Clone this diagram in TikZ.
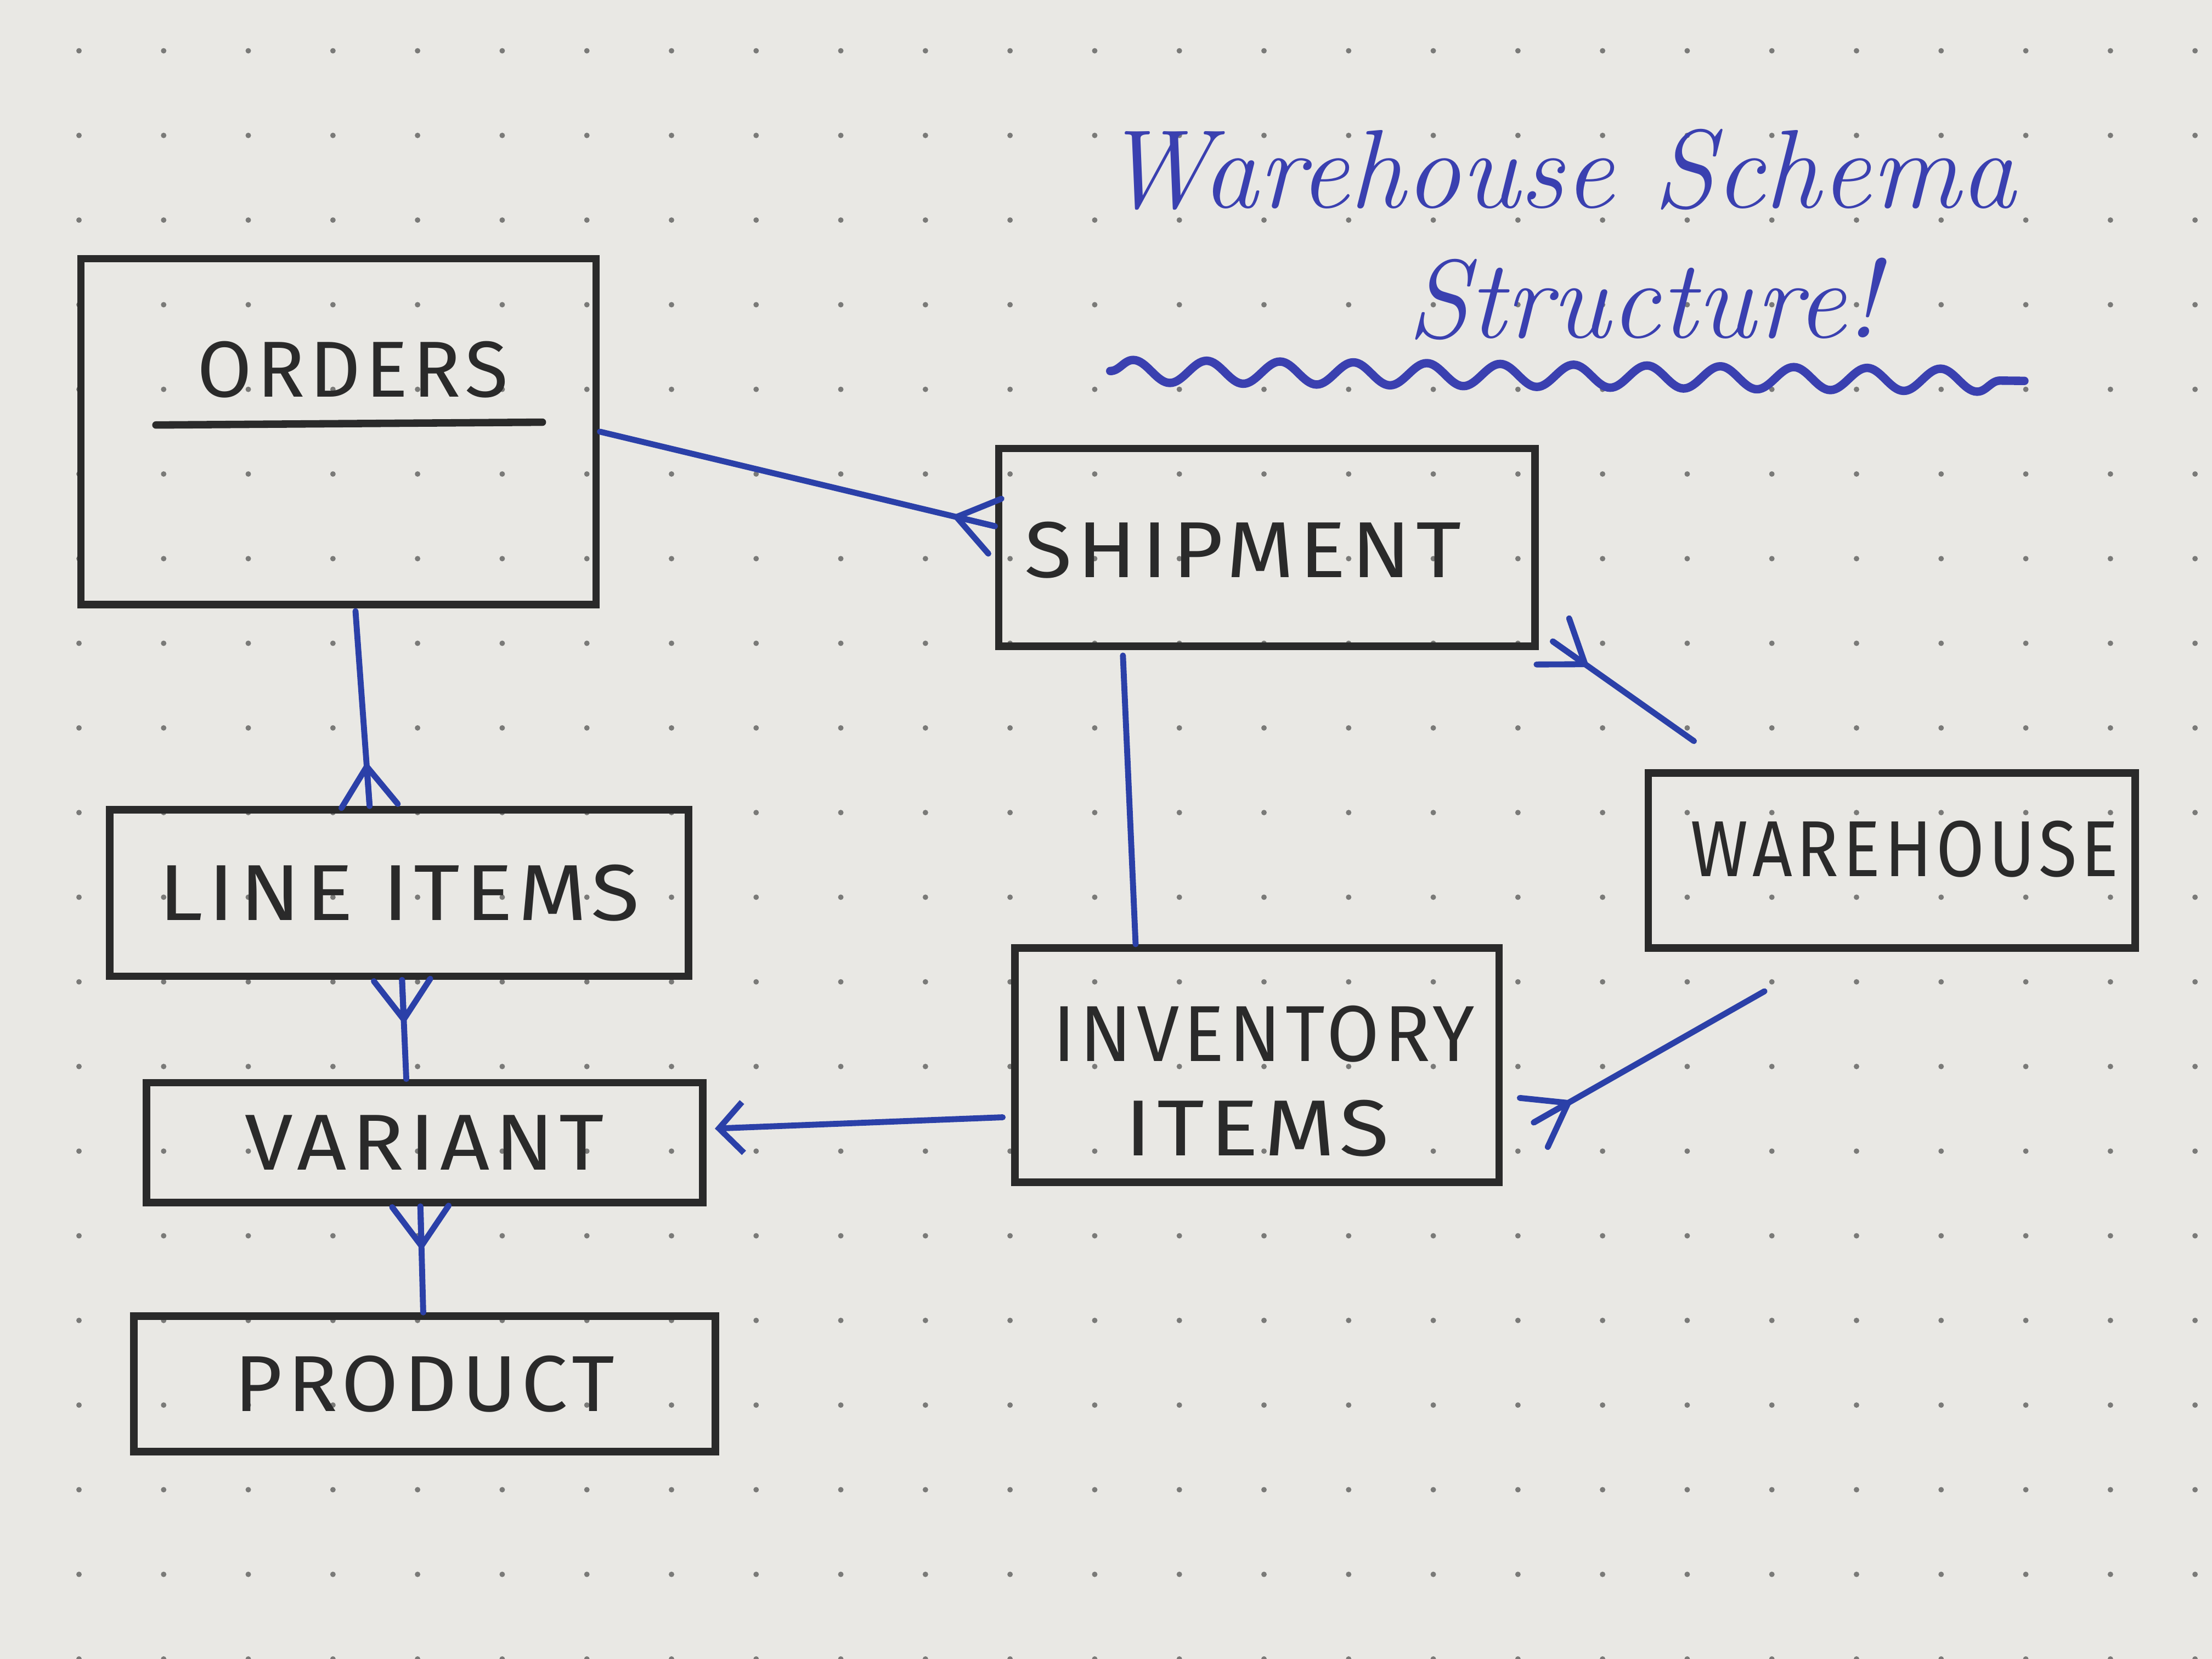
\documentclass[tikz,border=0pt]{standalone}
\usepackage{fontspec}
\newfontfamily\lblfont[LetterSpace=6]{Fira Sans}
\usetikzlibrary{calc,arrows.meta,decorations.pathmorphing}
\definecolor{paper}{HTML}{E9E8E4}
\definecolor{ink}{HTML}{2A2A2A}
\definecolor{pen}{HTML}{2B40A8}
\definecolor{titlepen}{HTML}{3A40B0}
\definecolor{dotc}{HTML}{7A7A78}
% crow's foot at #1, line coming from #2
\newcommand\crowft[2]{%
  \draw[conn] ($(#1)!0.28cm!(#2)$) -- ($(#1)!0.2cm!90:(#2)$)
              ($(#1)!0.28cm!(#2)$) -- (#1)
              ($(#1)!0.28cm!(#2)$) -- ($(#1)!0.2cm!-90:(#2)$);}
\newcommand\sx[2]{\scalebox{#1}[1]{#2}}
\begin{document}
\begin{tikzpicture}[x=0.01cm,y=-0.01cm,
  box/.style={draw=ink,line width=1.5pt,inner sep=0pt,font=\lblfont\fontsize{16}{19}\selectfont,text=ink,align=center},
  lbl/.style={font=\lblfont\fontsize{16}{19}\selectfont,text=ink,inner sep=1pt},
  inkline/.style={draw=ink,line width=1.5pt,line cap=round},
  conn/.style={draw=pen,line width=1.2pt,line cap=round},
  titl/.style={font=\itshape\fontsize{22.5}{27}\selectfont,text=titlepen,inner sep=0pt}]
\fill[paper] (0,0) rectangle (1568,1176);
\useasboundingbox (0,0) rectangle (1568,1176);
\foreach \i in {0,...,25}{\foreach \j in {0,...,19}{\fill[dotc] (56+60*\i,36+60*\j) circle[radius=0.55pt];}}
% boxes
\node[box,minimum width=3.65cm,minimum height=2.45cm] (orders) at (240,306) {};
\node[lbl] (ordt) at (250,262) {ORDERS};
\draw[inkline] ($(ordt.south west)+(-25,15)$) -- ($(ordt.south east)+(20,13)$);
\node[box,minimum width=3.8cm,minimum height=1.4cm] (ship) at (898,388) {};
\node[lbl] (shipt) at (881,390) {\sx{1.1}{SHIPMENT}};
\node[box,minimum width=3.45cm,minimum height=1.24cm] (wh) at (1341,610) {};
\node[lbl] (wht) at (1350,602) {\sx{0.88}{WAREHOUSE}};
\node[box,minimum width=4.1cm,minimum height=1.18cm] (li) at (283,633) {\sx{1.12}{LINE ITEMS}};
\node[box,minimum width=3.94cm,minimum height=0.85cm] (var) at (301,810) {\sx{1.09}{VARIANT}};
\node[box,minimum width=4.12cm,minimum height=0.96cm] (prod) at (301,981) {\sx{1.04}{PRODUCT}};
\node[box,minimum width=3.43cm,minimum height=1.66cm] (inv) at (891,755) {};
\node[lbl] (invt1) at (896,733) {\sx{0.96}{INVENTORY}};
\node[lbl] (invt2) at (891,800) {\sx{1.15}{ITEMS}};
% title
\node[titl] (t1) at (1105,120) {Warehouse Schema};
\node[titl] (t2) at (1165,212) {Structure!};
\coordinate (ul1) at ($(t1.center)+(-318,143)$);
\coordinate (ul2) at ($(t1.center)+(330,150)$);
\draw[draw=titlepen,line width=1.7pt,line cap=round,line join=round,decorate,decoration={snake,segment length=0.52cm,amplitude=0.08cm}] (ul1) -- (ul2);
% connectors
\coordinate (a1) at (orders.east);
\coordinate (a2) at ($(ship.west)+(0,-15)$);
\draw[conn] (a1) -- (a2); \crowft{a2}{a1}
\coordinate (b1) at ($(orders.south)+(12,2)$);
\coordinate (b2) at ($(li.north)+(-21,0)$);
\draw[conn] (b1) -- (b2); \crowft{b2}{b1}
\coordinate (c1) at ($(var.north)+(-13,0)$);
\coordinate (c2) at ($(li.south)+(2,0)$);
\draw[conn] (c1) -- (c2); \crowft{c2}{c1}
\coordinate (d1) at ($(prod.north)+(-1,0)$);
\coordinate (d2) at ($(var.south)+(-3,0)$);
\draw[conn] (d1) -- (d2); \crowft{d2}{d1}
\coordinate (e1) at ($(inv.west)+(-6,37)$);
\coordinate (e2) at ($(var.east)+(6,-10)$);
\draw[conn,-{Straight Barb[length=0.17cm,width=0.36cm]}] (e1) -- (e2);
\coordinate (f1) at ($(ship.south)+(-102,4)$);
\coordinate (f2) at ($(inv.north)+(-86,0)$);
\draw[conn] (f1) -- (f2);
\coordinate (g1) at ($(wh.north west)+(35,-20)$);
\coordinate (g2) at ($(ship.south east)+(10,-6)$);
\draw[conn] (g1) -- (g2); \crowft{g2}{g1}
\coordinate (h1) at ($(wh.south west)+(85,28)$);
\coordinate (h2) at ($(inv.south east)+(22,-45)$);
\draw[conn] (h1) -- (h2); \crowft{h2}{h1}
\end{tikzpicture}
\end{document}
